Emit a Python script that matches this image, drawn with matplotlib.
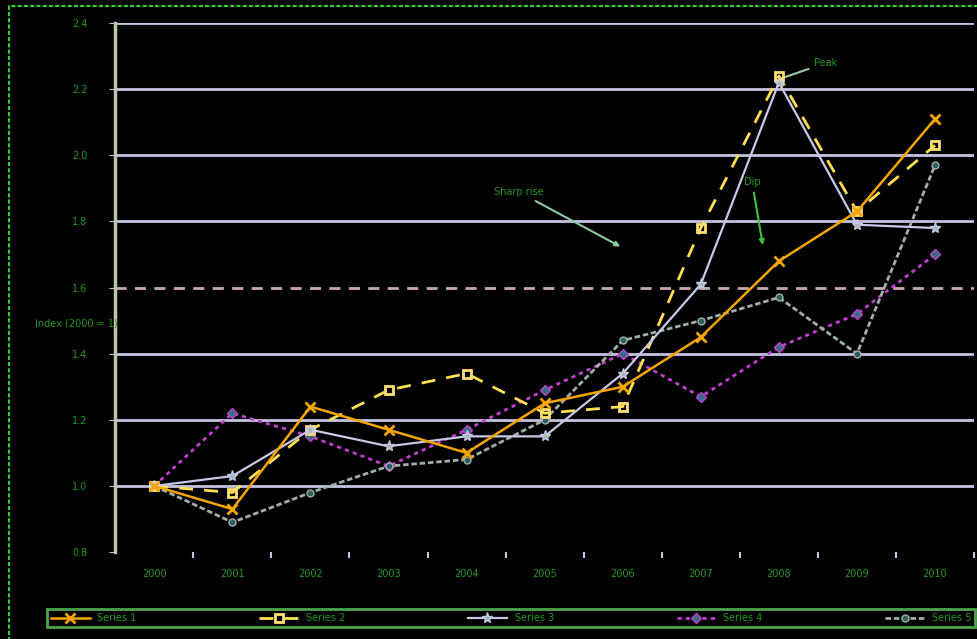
import matplotlib.pyplot as plt
from matplotlib.patches import Rectangle

years = ["2000", "2001", "2002", "2003", "2004", "2005", "2006", "2007", "2008", "2009", "2010"]
names = ["Series 1", "Series 2", "Series 3", "Series 4", "Series 5"]

orange = [1.00, 0.93, 1.24, 1.17, 1.10, 1.25, 1.30, 1.45, 1.68, 1.83, 2.11]
yellow = [1.00, 0.98, 1.17, 1.29, 1.34, 1.22, 1.24, 1.78, 2.24, 1.83, 2.03]
lavender = [1.00, 1.03, 1.17, 1.12, 1.15, 1.15, 1.34, 1.61, 2.22, 1.79, 1.78]
purple = [1.00, 1.22, 1.15, 1.06, 1.17, 1.29, 1.40, 1.27, 1.42, 1.52, 1.70]
greygreen = [1.00, 0.89, 0.98, 1.06, 1.08, 1.20, 1.44, 1.50, 1.57, 1.40, 1.97]

green = "#1f9a1f"
grid_col = "#c4c4e2"

fig = plt.figure(figsize=(9.77, 6.39), dpi=100, facecolor="black")
ax = fig.add_axes([0.118, 0.136, 0.879, 0.828])
ax.set_facecolor("black")

x = list(range(len(years)))

# gridlines
for v in [1.0, 1.2, 1.4, 1.8, 2.0, 2.2, 2.4]:
    ax.axhline(v, color=grid_col, lw=2, zorder=1)
ax.axhline(1.6, color="#c8a8b0", lw=2, ls=(0, (4, 3)), zorder=1)

ax.plot(x, orange, color="#f5a500", lw=1.8, marker="x", ms=7, mew=2, zorder=5)
ax.plot(x, yellow, color="#ffe050", lw=2, ls=(0, (5, 4)), marker="s", ms=6,
        mfc="none", mec="#ffe070", mew=2, zorder=4)
ax.plot(x, lavender, color="#c8c8e8", lw=1.6, marker="*", ms=8, mfc="#a0b8b0", mec="#c8c8e8", zorder=4)
ax.plot(x, purple, color="#c040d0", lw=2, ls=(0, (1.5, 1.5)), marker="D", ms=5,
        mfc="#307080", mec="#c040d0", zorder=3)
ax.plot(x, greygreen, color="#a0b0a8", lw=2, ls=(0, (2, 1)), marker="o", ms=5,
        mfc="#2a6060", mec="#a0b0a8", zorder=3)

ax.set_xlim(-0.5, len(years) - 0.5)
ax.set_ylim(0.8, 2.4)
ax.set_xticks(x)
ax.set_xticklabels(years, color=green, fontsize=7)
ax.set_xticks([i + 0.5 for i in x], minor=True)
ax.tick_params(axis="x", which="major", length=0, pad=12)
ax.tick_params(axis="x", which="minor", length=4, color=grid_col, width=1.5)
ax.set_yticks([0.8, 1.0, 1.2, 1.4, 1.6, 1.8, 2.0, 2.2, 2.4])
ax.set_yticklabels(["0.8", "1.0", "1.2", "1.4", "1.6", "1.8", "2.0", "2.2", "2.4"],
                   color=green, fontsize=7)
ax.tick_params(axis="y", length=4, color=grid_col, pad=16)

for s in ["top", "right", "bottom"]:
    ax.spines[s].set_visible(False)
ax.spines["left"].set_color("#b8c8a8")
ax.spines["left"].set_linewidth(2.5)

fig.text(0.036, 0.494, "Index (2000 = 1)", color=green, fontsize=7, va="center")

# annotations
ax.annotate("Sharp rise", xy=(6.0, 1.72), xytext=(4.35, 1.88), color=green, fontsize=7,
            arrowprops=dict(arrowstyle="-|>", color="#90c8a0", lw=1.5))
ax.annotate("Dip", xy=(7.8, 1.72), xytext=(7.55, 1.91), color=green, fontsize=7,
            arrowprops=dict(arrowstyle="-|>", color="#40c040", lw=1.5))
ax.annotate("Peak", xy=(8.0, 2.23), xytext=(8.45, 2.27), color=green, fontsize=7,
            arrowprops=dict(arrowstyle="-", color="#a0c8a0", lw=1.5))

# legend
handles = ax.get_lines()[-5:]
leg = fig.legend(handles, names, loc="lower left", ncol=5, mode="expand",
                 bbox_to_anchor=(0.048, 0.019, 0.95, 0.04), frameon=True,
                 fontsize=7, borderaxespad=0, handlelength=4)
leg.get_frame().set_facecolor("black")
leg.get_frame().set_edgecolor("#60d060")
leg.get_frame().set_linewidth(2)
leg.get_frame().set_boxstyle("square", pad=0)
for t in leg.get_texts():
    t.set_color(green)

# outer dotted border
fig.patches.append(Rectangle((0.009, -0.02), 1.2, 1.01, transform=fig.transFigure,
                             fill=False, ec="#30d030", lw=1.5, ls=(0, (2, 1))))

fig.savefig("out.png", dpi=100, facecolor="black")
